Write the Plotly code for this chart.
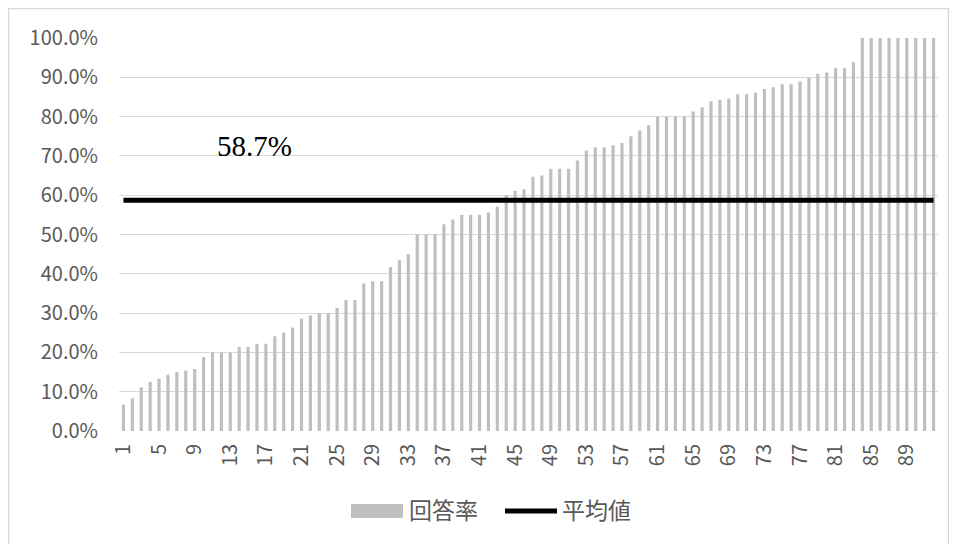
import plotly.graph_objects as go

# ---- data ----
respondents = list(range(1, 93))
response_rate = [
    0.067, 0.083, 0.111, 0.125, 0.133, 0.143, 0.150, 0.154, 0.158, 0.188,
    0.200, 0.200, 0.200, 0.214, 0.214, 0.222, 0.222, 0.241, 0.250, 0.263,
    0.286, 0.294, 0.300, 0.300, 0.313, 0.333, 0.333, 0.375, 0.381, 0.381,
    0.417, 0.435, 0.450, 0.500, 0.500, 0.500, 0.526, 0.538, 0.550, 0.550,
    0.550, 0.556, 0.571, 0.600, 0.611, 0.615, 0.647, 0.650, 0.667, 0.667,
    0.667, 0.688, 0.714, 0.722, 0.722, 0.727, 0.733, 0.750, 0.765, 0.778,
    0.800, 0.800, 0.800, 0.800, 0.813, 0.824, 0.839, 0.842, 0.846, 0.857,
    0.857, 0.861, 0.870, 0.875, 0.882, 0.882, 0.889, 0.900, 0.909, 0.912,
    0.923, 0.923, 0.938, 1.000, 1.000, 1.000, 1.000, 1.000, 1.000, 1.000,
    1.000, 1.000,
]
average_value = 0.587
average_label = "58.7%"
series_names = ["回答率", "平均値"]
x_tick_values = list(range(1, 93, 4))
y_tick_values = [i / 10 for i in range(0, 11)]

BAR_COLOR = "#BFBFBF"
LINE_COLOR = "#000000"
TEXT_COLOR = "#595959"
GRID_COLOR = "#D9D9D9"
FONT = "Noto Sans CJK JP"

# plot-area geometry in screenshot pixels (used only for legend placement)
PX0, PW, PY0, PH = 119, 819, 431, 393


def px(x):
    return (x - PX0) / PW


def py(y):
    return (PY0 - y) / PH


fig = go.Figure()
fig.add_trace(go.Bar(
    x=respondents, y=response_rate, name=series_names[0],
    marker=dict(color=BAR_COLOR, line=dict(width=0)),
    showlegend=False,
))
fig.add_trace(go.Scatter(
    x=[respondents[0], respondents[-1]], y=[average_value, average_value],
    mode="lines", name=series_names[1],
    line=dict(color=LINE_COLOR, width=5),
    showlegend=False,
))

fig.add_annotation(
    x=15.7, y=0.724, xref="x", yref="y", text=average_label, showarrow=False,
    font=dict(family="Liberation Serif", size=29, color="#000000"),
)

# custom legend (matching the wide swatches of the original)
fig.add_shape(type="rect", xref="paper", yref="paper",
              x0=px(351), x1=px(403), y0=py(518), y1=py(504),
              fillcolor=BAR_COLOR, line=dict(width=0))
fig.add_annotation(xref="paper", yref="paper", x=px(407), y=py(509),
                   xanchor="left", yanchor="middle", text=series_names[0], showarrow=False,
                   font=dict(family=FONT, size=23, color=TEXT_COLOR))
fig.add_shape(type="line", xref="paper", yref="paper",
              x0=px(505), x1=px(557), y0=py(511), y1=py(511),
              line=dict(color=LINE_COLOR, width=5))
fig.add_annotation(xref="paper", yref="paper", x=px(560), y=py(509),
                   xanchor="left", yanchor="middle", text=series_names[1], showarrow=False,
                   font=dict(family=FONT, size=23, color=TEXT_COLOR))

# outer chart border
fig.add_shape(type="rect", xref="paper", yref="paper",
              x0=px(8.5), x1=px(948.5), y0=py(560), y1=py(8.5),
              line=dict(color=GRID_COLOR, width=1.5), fillcolor="rgba(0,0,0,0)", layer="below")

# the page body adds an 8px offset, so the figure is 8px smaller than the window
fig.update_layout(
    width=949, height=536,
    margin=dict(l=111, r=19, t=30, b=113, autoexpand=False),
    paper_bgcolor="white", plot_bgcolor="white",
    bargap=0.64,
    font=dict(family=FONT, color=TEXT_COLOR),
    showlegend=False,
)
fig.update_xaxes(
    range=[0.5, 92.5], tickmode="array", tickvals=x_tick_values,
    ticktext=[str(v) for v in x_tick_values], tickangle=-90,
    tickfont=dict(family=FONT, size=20, color=TEXT_COLOR),
    showgrid=False, showline=False, zeroline=False, ticks="", ticklabelstandoff=8,
)
fig.update_yaxes(
    range=[0, 1], tickmode="array", tickvals=y_tick_values, tickformat=".1%",
    tickfont=dict(family=FONT, size=20, color=TEXT_COLOR),
    showgrid=True, gridcolor=GRID_COLOR, gridwidth=1.3,
    zeroline=False, showline=False, ticks="", ticklabelstandoff=20,
)

fig.write_html("out.html")
